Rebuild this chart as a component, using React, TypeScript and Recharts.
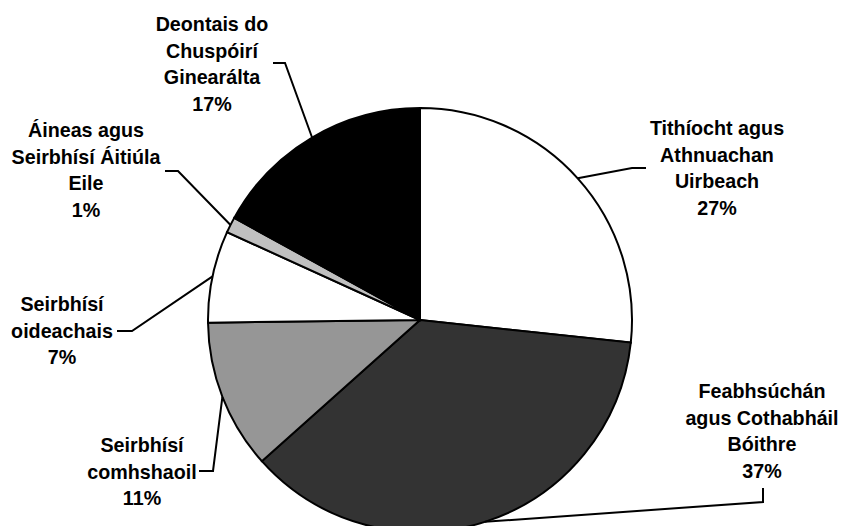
import { PieChart, Pie, Cell } from 'recharts';

const categories = [
  'Tithíocht agus Athnuachan Uirbeach',
  'Feabhsúchán agus Cothabháil Bóithre',
  'Seirbhísí comhshaoil',
  'Seirbhísí oideachais',
  'Áineas agus Seirbhísí Áitiúla Eile',
  'Deontais do Chuspóirí Ginearálta',
];
const labelLines = [
  ['Tithíocht agus', 'Athnuachan', 'Uirbeach'],
  ['Feabhsúchán', 'agus Cothabháil', 'Bóithre'],
  ['Seirbhísí', 'comhshaoil'],
  ['Seirbhísí', 'oideachais'],
  ['Áineas agus', 'Seirbhísí Áitiúla', 'Eile'],
  ['Deontais do', 'Chuspóirí', 'Ginearálta'],
];
const shares = [26.7, 36.7, 11.4, 7.0, 1.2, 17.0];
const fills = ['#ffffff', '#333333', '#969696', '#ffffff', '#c0c0c0', '#000000'];

// label placement: text centre x, first baseline y, leader elbow and end
const labelLayout = [
  { tx: 717, ty: 135, pts: [[632, 168], [646, 168]] },
  { tx: 762, ty: 398, pts: [[763, 502], [763, 488]] },
  { tx: 142, ty: 452, pts: [[213, 471], [199, 471]] },
  { tx: 62, ty: 311, pts: [[132, 331], [117, 331]] },
  { tx: 86, ty: 137, pts: [[178, 171], [165, 171]] },
  { tx: 212, ty: 31, pts: [[285, 63], [273, 63]] },
];

const data = categories.map((name, i) => ({ name, value: shares[i] }));
const RAD = Math.PI / 180;
const LINE_H = 26.5;

function renderLabel(props: any) {
  const { cx, cy, midAngle, outerRadius, index, percent } = props;
  const x0 = cx + outerRadius * Math.cos(-midAngle * RAD);
  const y0 = cy + outerRadius * Math.sin(-midAngle * RAD);
  const lay = labelLayout[index];
  const lines = [...labelLines[index], `${Math.round(percent * 100)}%`];
  const d = `M${x0},${y0}` + lay.pts.map((p) => ` L${p[0]},${p[1]}`).join('');
  return (
    <g key={`lbl-${index}`}>
      <path d={d} stroke="#000" strokeWidth={2} fill="none" />
      <text
        x={lay.tx}
        y={lay.ty}
        textAnchor="middle"
        fontFamily="'Liberation Sans', Arial, sans-serif"
        fontWeight="bold"
        fontSize={19.7}
        fill="#000"
      >
        {lines.map((ln, j) => (
          <tspan key={j} x={lay.tx} y={lay.ty + j * LINE_H}>
            {ln}
          </tspan>
        ))}
      </text>
    </g>
  );
}

export default function App() {
  return (
    <div style={{ position: 'absolute', left: 0, top: 0, width: 843, height: 526, background: '#fff' }}>
      <PieChart width={843} height={526} margin={{ top: 0, right: 0, bottom: 0, left: 0 }}>
        <Pie
          data={data}
          dataKey="value"
          nameKey="name"
          cx={420}
          cy={320}
          outerRadius={212}
          startAngle={90}
          endAngle={-270}
          stroke="#000"
          strokeWidth={2}
          label={renderLabel}
          labelLine={false}
          isAnimationActive={false}
        >
          {data.map((d, i) => (
            <Cell key={d.name} fill={fills[i]} />
          ))}
        </Pie>
      </PieChart>
    </div>
  );
}
